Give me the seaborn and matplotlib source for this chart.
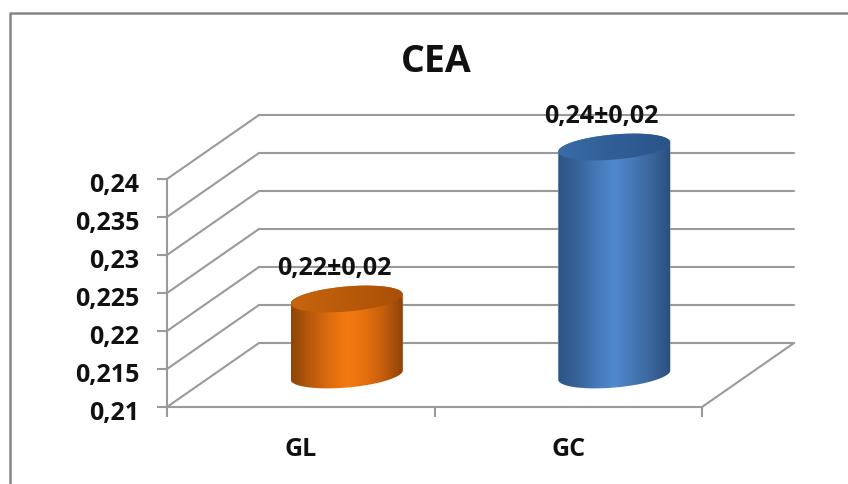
import numpy as np
import matplotlib
matplotlib.use("Agg")
import matplotlib.pyplot as plt
import pandas as pd
import seaborn as sns
from matplotlib.colors import LinearSegmentedColormap
from matplotlib.lines import Line2D
from matplotlib.patches import ConnectionPatch
from matplotlib.path import Path
from matplotlib.transforms import IdentityTransform, ScaledTranslation

# Data
groups = ["GL", "GC"]
values = [0.22, 0.24]
value_labels = ["0,22±0,02", "0,24±0,02"]
y_ticks = [0.21, 0.215, 0.22, 0.225, 0.23, 0.235, 0.24]
y_tick_labels = ["0,21", "0,215", "0,22", "0,225", "0,23", "0,235", "0,24"]
chart_title = "CEA"

# Styling
W, H = 848, 485
GRID = "#9a9a9a"
TEXT = "#111111"
FONT = "Open Sans"
SIDE_COLOURS = [
    ["#8f4508", "#b8590c", "#dc6c0e", "#f47a10", "#e46f0e", "#c05c0c", "#8a4208"],
    ["#2c5586", "#386397", "#4478b6", "#5089d0", "#4578b4", "#39659a", "#2b4f7c"],
]
TOP_COLOURS = [
    ["#c8650f", "#b85a0a", "#a94f08"],
    ["#3a6ca6", "#2f5e96", "#2a5488"],
]
FRONT = (167, 408, 535, 228)      # left, baseline (from top), width, height in pixels
DEPTH = (92, 64)                  # full depth of the floor in pixels
BAR_WIDTH = 0.42
ELLIPSE_H = 12.5
TILT = np.deg2rad(5)

sns.set_theme(style="white")
plt.rcParams["font.family"] = [FONT, "DejaVu Sans"]


def add_plane(fig, dx, dy):
    """Axes sharing the front plane's scale, shifted back by (dx, dy) pixels."""
    left, base, width, height = FRONT
    ax = fig.add_axes([(left + dx) / W, (H - base + dy) / H, width / W, height / H])
    ax.set_facecolor("none")
    ax.set_xlim(-0.5, 1.5)
    ax.set_ylim(min(y_ticks), max(y_ticks))
    return ax


def ellipse_points(centre, half_w, start, stop, n=80):
    t = np.linspace(start, stop, n)
    x, y = half_w * np.cos(t), ELLIPSE_H * np.sin(t)
    return np.column_stack([
        centre[0] + x * np.cos(TILT) - y * np.sin(TILT),
        centre[1] + x * np.sin(TILT) + y * np.cos(TILT),
    ])


fig = plt.figure(figsize=(W / 100, H / 100), dpi=100, facecolor="white")

# Back wall with its gridlines
back = add_plane(fig, DEPTH[0], DEPTH[1])
sns.despine(ax=back, left=True, bottom=True)
back.set_xticks([])
back.set_yticks(y_ticks)
back.tick_params(left=False, labelleft=False)
back.grid(axis="y", color=GRID, lw=1.5)
back.set_axisbelow(True)
for gridline in back.get_ygridlines():
    gridline.set_clip_on(False)

# Front plane carrying the axes and labels
front = add_plane(fig, 0, 0)
sns.despine(ax=front)
for side in ("left", "bottom"):
    front.spines[side].set_color(GRID)
    front.spines[side].set_linewidth(1.5)
front.set_yticks(y_ticks, y_tick_labels, fontsize=18, fontweight="bold", color=TEXT)
front.tick_params(axis="y", left=True, color=GRID, width=1.5, length=7, pad=13)
front.set_xticks([0, 1], groups, fontsize=18, fontweight="bold", color=TEXT)
front.set_xticks([-0.5, 0.5, 1.5], minor=True)
front.tick_params(axis="x", which="major", length=0, pad=21)
front.tick_params(axis="x", which="minor", bottom=True, color=GRID, width=1.5, length=7)
label_drop = ScaledTranslation(0, -2 / 72, fig.dpi_scale_trans)
for label in front.get_yticklabels():
    label.set_transform(label.get_transform() + label_drop)

# Side wall and floor edges running into the depth
for v in y_ticks:
    fig.add_artist(ConnectionPatch((-0.5, v), (-0.5, v), coordsA=front.transData,
                                   coordsB=back.transData, color=GRID, lw=1.5))
fig.add_artist(ConnectionPatch((1.5, y_ticks[0]), (1.5, y_ticks[0]), coordsA=front.transData,
                               coordsB=back.transData, color=GRID, lw=1.5))

# Cylinders stand halfway along the depth
mid = add_plane(fig, DEPTH[0] / 2, DEPTH[1] / 2)
frame = pd.DataFrame({"group": groups, "value": values})
sns.barplot(data=frame, x="group", y="value", hue="group", palette=["#f47a10", "#5089d0"],
            width=BAR_WIDTH, legend=False, ax=mid)
mid.set_xlim(-0.5, 1.5)
mid.set_ylim(min(y_ticks), max(y_ticks))
mid.axis("off")

for i, (value, bar) in enumerate(zip(values, mid.patches)):
    x0, x1 = bar.get_x(), bar.get_x() + bar.get_width()
    top = mid.transData.transform((i, value))
    base = mid.transData.transform((i, min(y_ticks)))
    half_w = (mid.transData.transform((x1, value))[0] - mid.transData.transform((x0, value))[0]) / 2

    outline = np.vstack([
        ellipse_points(base, half_w, np.pi, 2 * np.pi),
        ellipse_points(top, half_w, 0, np.pi),
    ])
    silhouette = Path(np.vstack([outline, outline[:1]]), closed=True)
    bar.set_clip_path(silhouette, IdentityTransform())

    shade = np.linspace(0, 1, 256).reshape(1, -1)
    side_map = LinearSegmentedColormap.from_list("side", SIDE_COLOURS[i])
    span = (max(y_ticks) - min(y_ticks)) * 30 / 228
    body = mid.imshow(shade, cmap=side_map, aspect="auto", zorder=3,
                      extent=(x0, x1, min(y_ticks) - span, value + span))
    body.set_clip_box(fig.bbox)
    body.set_clip_path(silhouette, IdentityTransform())

    cap_outline = ellipse_points(top, half_w, 0, 2 * np.pi)
    cap = mid.imshow(shade, cmap=LinearSegmentedColormap.from_list("cap", TOP_COLOURS[i]),
                     aspect="auto", zorder=4, extent=(x0, x1, value - span, value + span))
    cap.set_clip_box(fig.bbox)
    cap.set_clip_path(Path(np.vstack([cap_outline, cap_outline[:1]]), closed=True),
                      IdentityTransform())

    mid.annotate(value_labels[i], (i, value), xytext=(-9, 31 * 0.72), textcoords="offset points",
                 ha="center", va="center", fontsize=18, fontweight="bold", color=TEXT,
                 annotation_clip=False, zorder=6)

mid.set_xlim(-0.5, 1.5)
mid.set_ylim(min(y_ticks), max(y_ticks))

# Title and outer border
fig.text(436 / W, 1 - 62 / H, chart_title, ha="center", va="center",
         fontsize=27, fontweight="bold", color=TEXT)
border_x, border_y = 9.5 / W, 1 - 14 / H
fig.add_artist(Line2D([border_x, border_x, 1], [0, border_y, border_y],
                      color="#858585", lw=1.8, transform=fig.transFigure))

fig.savefig("out.png", dpi=100)
